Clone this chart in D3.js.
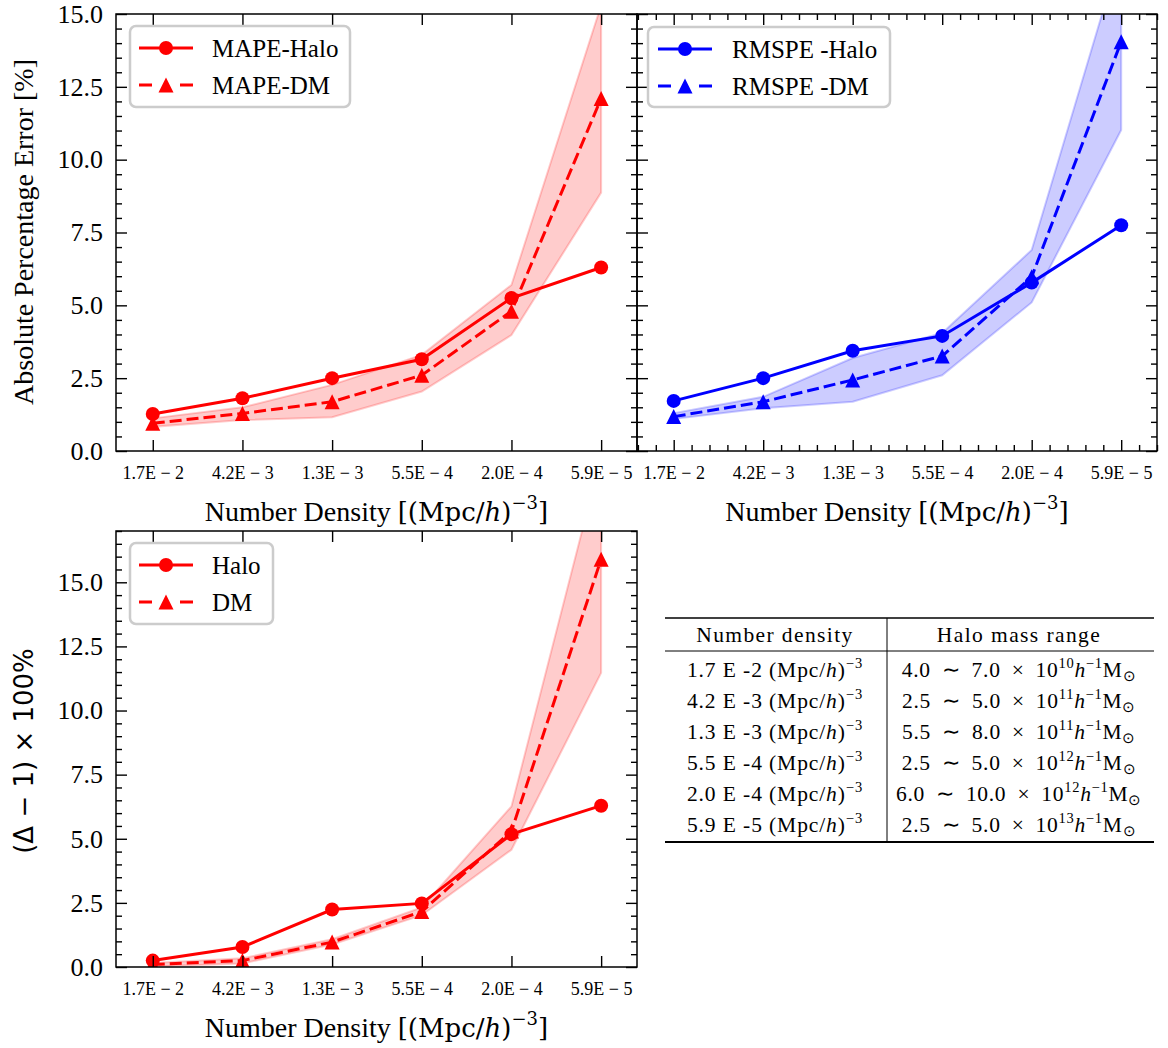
<!DOCTYPE html>
<html><head><meta charset="utf-8">
<script src="https://cdn.jsdelivr.net/npm/d3@7"></script>
<style>body{margin:0;background:#fff} svg{display:block}</style>
</head><body><svg id="c" width="1168" height="1048"></svg>
<script>
// ---------- data ----------
const categories = ["1.7E−2","4.2E−3","1.3E−3","5.5E−4","2.0E−4","5.9E−5"];

const mapeHalo   = [1.27, 1.81, 2.50, 3.15, 5.25, 6.30];
const mapeDM     = [0.95, 1.29, 1.69, 2.60, 4.80, 12.10];
const mapeDMLow  = [0.83, 1.06, 1.16, 2.04, 3.98, 8.87];
const mapeDMHigh = [1.12, 1.50, 2.27, 3.30, 5.70, 15.30];

const rmspeHalo   = [1.72, 2.50, 3.44, 3.95, 5.78, 7.75];
const rmspeDM     = [1.18, 1.69, 2.44, 3.26, 5.98, 14.05];
const rmspeDMLow  = [1.10, 1.47, 1.69, 2.60, 5.10, 11.02];
const rmspeDMHigh = [1.30, 1.86, 3.19, 4.05, 6.90, 17.20];

const deltaHalo   = [0.25, 0.78, 2.24, 2.48, 5.18, 6.29];
const deltaDM     = [0.10, 0.25, 0.97, 2.16, 5.30, 15.90];
const deltaDMLow  = [0.02, 0.14, 0.88, 2.02, 4.57, 11.47];
const deltaDMHigh = [0.16, 0.34, 1.08, 2.32, 6.26, 19.90];

const yTicksTop    = [0, 2.5, 5, 7.5, 10, 12.5, 15];
const yTicksBottom = [0, 2.5, 5, 7.5, 10, 12.5, 15];

// table
const densMant = ["1.7","4.2","1.3","5.5","2.0","5.9"];
const densExp  = ["-2","-3","-3","-4","-4","-5"];
const massLo   = ["4.0","2.5","5.5","2.5","6.0","2.5"];
const massHi   = ["7.0","5.0","8.0","5.0","10.0","5.0"];
const massExp  = ["10","11","11","12","12","13"];

// ---------- drawing ----------
const svg = d3.select("#c");
const SERIF = "'Liberation Serif','Times New Roman',serif";
const MATH = "'DejaVu Serif',serif";
const SANS = "'DejaVu Sans',sans-serif";
const RED = "#ff0000", BLUE = "#0000ff";

const triangle = {draw(ctx, size){ const s = Math.sqrt(size)/2;
  ctx.moveTo(0,-s); ctx.lineTo(s,s); ctx.lineTo(-s,s); ctx.closePath(); }};
const circleSym = d3.symbol().type(d3.symbolCircle).size(Math.PI*7*7)();
const triSym = d3.symbol().type(triangle).size(15*15)();

function drawSeries(pg, x, y, vals, color, dashed, sym){
  const line = d3.line().x((d,i)=>x(i)).y(d=>y(d));
  pg.append("path").datum(vals).attr("d", line).attr("fill","none")
    .attr("stroke", color).attr("stroke-width", 3)
    .attr("stroke-dasharray", dashed ? "12,5" : null);
  pg.selectAll(null).data(vals).enter().append("path")
    .attr("d", sym).attr("fill", color)
    .attr("transform", (d,i)=>`translate(${x(i)},${y(d)})`);
}

function styleAxis(g){
  g.select(".domain").remove();
  g.selectAll(".tick line").attr("stroke","#000").attr("stroke-width",1.4);
  g.attr("font-family", null).attr("font-size", null);
}

function panel(cfg){
  const {x0,x1,y0,y1,ymax,id,color} = cfg;
  const x = d3.scaleLinear().domain([-0.41, 5.4]).range([x0, x1]);
  const y = d3.scaleLinear().domain([0, ymax]).range([y1, y0]);
  const g = svg.append("g");
  svg.append("clipPath").attr("id", id).append("rect")
    .attr("x", x0).attr("y", y0).attr("width", x1-x0).attr("height", y1-y0);
  const pg = g.append("g").attr("clip-path", `url(#${id})`);

  const area = d3.area().x((d,i)=>x(i)).y0(d=>y(d[0])).y1(d=>y(d[1]));
  pg.append("path").datum(d3.zip(cfg.low, cfg.high)).attr("d", area)
    .attr("fill", color).attr("fill-opacity", 0.2)
    .attr("stroke", color).attr("stroke-opacity", 0.2).attr("stroke-width", 2);

  drawSeries(pg, x, y, cfg.halo, color, false, circleSym);
  drawSeries(pg, x, y, cfg.dm, color, true, triSym);

  const majX = d3.range(6);
  const minY = d3.range(0, ymax + 0.01, 0.5).filter(v => Math.abs(v/2.5 - Math.round(v/2.5)) > 1e-6);

  // bottom
  const ab = g.append("g").attr("transform", `translate(0,${y1})`)
    .call(d3.axisBottom(x).tickValues(majX).tickSize(-11).tickPadding(15)
      .tickFormat(cfg.xlabels ? (i => categories[i].replace("−", " − ")) : ""));
  styleAxis(ab);
  ab.selectAll(".tick text").attr("font-family", SERIF).attr("font-size", 18).attr("fill", "#000");
  // top
  const at = g.append("g").attr("transform", `translate(0,${y0})`)
    .call(d3.axisTop(x).tickValues(majX).tickSize(-11).tickFormat(""));
  styleAxis(at);
  if (cfg.minorX){
    const mx = d3.range(-2, 28).map(k => k*0.2).filter(v => Math.abs(v - Math.round(v)) > 1e-6);
    const mb = g.append("g").attr("transform", `translate(0,${y1})`)
      .call(d3.axisBottom(x).tickValues(mx).tickSize(-6).tickFormat(""));
    styleAxis(mb);
    const mt = g.append("g").attr("transform", `translate(0,${y0})`)
      .call(d3.axisTop(x).tickValues(mx).tickSize(-6).tickFormat(""));
    styleAxis(mt);
  }
  // left
  const al = g.append("g").attr("transform", `translate(${x0},0)`)
    .call(d3.axisLeft(y).tickValues(cfg.yticks).tickSize(-11).tickPadding(13)
      .tickFormat(cfg.ylabels ? d3.format(".1f") : ""));
  styleAxis(al);
  al.selectAll(".tick text").attr("font-family", SERIF).attr("font-size", 26).attr("fill", "#000");
  const ml = g.append("g").attr("transform", `translate(${x0},0)`)
    .call(d3.axisLeft(y).tickValues(minY).tickSize(-6).tickFormat(""));
  styleAxis(ml);
  // right
  const ar = g.append("g").attr("transform", `translate(${x1},0)`)
    .call(d3.axisRight(y).tickValues(cfg.yticks).tickSize(-11).tickFormat(""));
  styleAxis(ar);
  const mr = g.append("g").attr("transform", `translate(${x1},0)`)
    .call(d3.axisRight(y).tickValues(minY).tickSize(-6).tickFormat(""));
  styleAxis(mr);

  g.append("rect").attr("x", x0).attr("y", y0).attr("width", x1-x0).attr("height", y1-y0)
    .attr("fill", "none").attr("stroke", "#000").attr("stroke-width", 1.5);

  // x label
  const xl = g.append("text").attr("x", (x0+x1)/2).attr("y", y1 + 70)
    .attr("text-anchor", "middle").attr("font-family", SERIF).attr("font-size", 28);
  xl.append("tspan").text("Number Density ");
  xl.append("tspan").attr("font-family", MATH).attr("font-size", 26).text("[(Mpc/");
  xl.append("tspan").attr("font-family", MATH).attr("font-size", 26).attr("font-style", "italic").text("h");
  xl.append("tspan").attr("font-family", MATH).attr("font-size", 26).text(")");
  xl.append("tspan").attr("font-family", MATH).attr("font-size", 18).attr("dy", -12).text("−3");
  xl.append("tspan").attr("font-family", MATH).attr("font-size", 26).attr("dy", 12).text("]");

  // legend
  const L = cfg.legend;
  const lg = g.append("g");
  lg.append("rect").attr("x", L.x).attr("y", L.y).attr("width", L.w).attr("height", L.h)
    .attr("rx", 6).attr("fill", "#fff").attr("fill-opacity", 0.8)
    .attr("stroke", "#cccccc").attr("stroke-width", 2.5);
  L.items.forEach((it, k) => {
    const cy = L.y + 22 + k*37;
    lg.append("line").attr("x1", L.lx).attr("x2", L.lx + 54).attr("y1", cy).attr("y2", cy)
      .attr("stroke", color).attr("stroke-width", 3)
      .attr("stroke-dasharray", it.dashed ? "13,28,13" : null);
    lg.append("path").attr("d", it.dashed ? triSym : circleSym).attr("fill", color)
      .attr("transform", `translate(${L.lx + 27},${cy})`);
    lg.append("text").attr("x", L.tx).attr("y", cy + 8.5).attr("font-family", SERIF)
      .attr("font-size", 25).attr("fill", "#000").text(it.label);
  });
}

panel({id:"cpA", x0:116, x1:637, y0:14, y1:451, ymax:15, color:RED,
  halo:mapeHalo, dm:mapeDM, low:mapeDMLow, high:mapeDMHigh,
  yticks:yTicksTop, xlabels:true, ylabels:true, minorX:false,
  legend:{x:130, y:26, w:220, h:81, lx:139, tx:212,
    items:[{label:"MAPE-Halo", dashed:false},{label:"MAPE-DM", dashed:true}]}});

panel({id:"cpB", x0:637, x1:1157, y0:14, y1:451, ymax:15, color:BLUE,
  halo:rmspeHalo, dm:rmspeDM, low:rmspeDMLow, high:rmspeDMHigh,
  yticks:yTicksTop, xlabels:true, ylabels:false, minorX:true,
  legend:{x:648, y:27, w:242, h:80, lx:658, tx:732,
    items:[{label:"RMSPE -Halo", dashed:false},{label:"RMSPE -DM", dashed:true}]}});

panel({id:"cpC", x0:116, x1:637, y0:531, y1:967, ymax:17, color:RED,
  halo:deltaHalo, dm:deltaDM, low:deltaDMLow, high:deltaDMHigh,
  yticks:yTicksBottom, xlabels:true, ylabels:true, minorX:false,
  legend:{x:130, y:543, w:143, h:81, lx:139, tx:212,
    items:[{label:"Halo", dashed:false},{label:"DM", dashed:true}]}});

// y labels
svg.append("text").attr("transform", "translate(33,232) rotate(-90)")
  .attr("text-anchor", "middle").attr("font-family", SERIF).attr("font-size", 28)
  .text("Absolute Percentage Error [%]");
svg.append("text").attr("transform", "translate(33,751) rotate(-90)")
  .attr("text-anchor", "middle").attr("font-family", SANS).attr("font-size", 26)
  .text("(Δ − 1) × 100%");

// table
const tb = svg.append("g").attr("font-family", SERIF).attr("fill", "#000");
const tL = 665, tR = 1154, tMid = 887, tTop = 618, tHead = 651, tBot = 842;
tb.append("line").attr("x1", tL).attr("x2", tR).attr("y1", tTop).attr("y2", tTop).attr("stroke", "#000").attr("stroke-width", 1.5);
tb.append("line").attr("x1", tL).attr("x2", tR).attr("y1", tHead).attr("y2", tHead).attr("stroke", "#000").attr("stroke-width", 1);
tb.append("line").attr("x1", tL).attr("x2", tR).attr("y1", tBot).attr("y2", tBot).attr("stroke", "#000").attr("stroke-width", 1.8);
tb.append("line").attr("x1", tMid).attr("x2", tMid).attr("y1", tTop).attr("y2", tBot).attr("stroke", "#000").attr("stroke-width", 1);
const c1 = 775, c2 = 1019;
const FS = 21.5, SUP = 14.5;
tb.append("text").attr("x", c1).attr("y", 642).attr("text-anchor", "middle").attr("font-size", FS)
  .attr("letter-spacing", 1.4).text("Number density");
tb.append("text").attr("x", c2).attr("y", 642).attr("text-anchor", "middle").attr("font-size", FS)
  .attr("letter-spacing", 1.4).text("Halo mass range");
densMant.forEach((m, i) => {
  const yb = 677 + 31*i;
  const t1 = tb.append("text").attr("x", c1).attr("y", yb).attr("text-anchor", "middle")
    .attr("font-size", FS).attr("letter-spacing", 0.9);
  t1.append("tspan").text(`${m} E ${densExp[i]} (Mpc/`);
  t1.append("tspan").attr("font-style", "italic").text("h");
  t1.append("tspan").text(")");
  t1.append("tspan").attr("font-size", SUP).attr("dy", -9).text("−3");
  const t2 = tb.append("text").attr("x", c2).attr("y", yb).attr("text-anchor", "middle")
    .attr("font-size", FS).attr("letter-spacing", 0.7);
  t2.append("tspan").text(`${massLo[i]} \u2009∼\u2009 ${massHi[i]} \u2009×\u2009 10`);
  t2.append("tspan").attr("font-size", SUP).attr("dy", -9).text(massExp[i]);
  t2.append("tspan").attr("font-style", "italic").attr("dy", 9).text("h");
  t2.append("tspan").attr("font-size", SUP).attr("dy", -9).text("−1");
  t2.append("tspan").attr("dy", 9).text("M");
  t2.append("tspan").attr("font-size", SUP).attr("dy", 4).text("⊙");
});
</script></body></html>
